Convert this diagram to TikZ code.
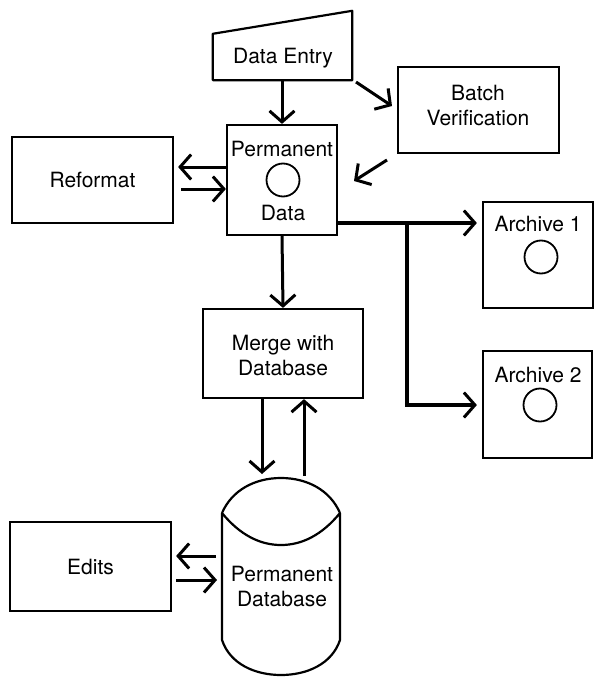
\documentclass[tikz,border=0pt]{standalone}
\usepackage{fontspec}
\setmainfont{TeX Gyre Heros}
\usetikzlibrary{arrows.meta}
\tikzset{
  box/.style={draw, line width=2.2pt, rectangle, inner sep=0pt},
  lbl/.style={font=\fontsize{21}{25}\selectfont, inner sep=0pt, align=center},
  disk/.style={draw, circle, line width=1.8pt, minimum size=33pt, inner sep=0pt},
  arr/.style={line width=3pt, -{Straight Barb[length=11pt,width=25pt]}},
  thick arr/.style={line width=4.5pt, -{Straight Barb[length=11pt,width=25pt,line width=3pt]}},
  thickline/.style={line width=4.5pt}
}
\begin{document}
\begin{tikzpicture}[x=1pt,y=-1pt]
\useasboundingbox (0,0) rectangle (595,677);
% Data Entry (manual input shape)
\node[inner sep=0pt, minimum width=139pt, minimum height=46pt] (de) at (282.5,57) {};
\draw[line width=2.2pt, line join=round] (de.south west) -- (de.north west) -- ([yshift=23pt]de.north east) -- (de.south east) -- cycle;
\node[lbl] (detext) at (283,58) {Data Entry};
% Permanent Data
\node[box, minimum width=110pt, minimum height=110pt] (pd) at (282,180) {};
\node[lbl] (pdtop) at (282,149) {Permanent};
\node[disk] (pdc) at (283,180) {};
\node[lbl] (pdbot) at (283,213) {Data};
% Reformat
\node[box, minimum width=161pt, minimum height=86pt, lbl] (rf) at (92.5,180) {Reformat};
% Batch Verification
\node[box, minimum width=161pt, minimum height=86pt] (bv) at (478.5,110) {};
\node[lbl] (bvt) at (478,106) {Batch\\Verification};
% Archives
\node[box, minimum width=110pt, minimum height=106pt] (a1) at (538,255) {};
\node[lbl] (a1t) at (538,224) {Archive 1};
\node[disk] (a1c) at (541,257) {};
\node[box, minimum width=109pt, minimum height=107pt] (a2) at (537.5,404.5) {};
\node[lbl] (a2t) at (538,375) {Archive 2};
\node[disk] (a2c) at (540,405) {};
% Merge
\node[box, minimum width=160pt, minimum height=89pt] (mg) at (283,353.5) {};
\node[lbl] (mgt) at (283,355) {Merge with\\Database};
% Edits
\node[box, minimum width=161pt, minimum height=89pt, lbl] (ed) at (90.5,566.5) {Edits};
% Permanent Database (cylinder)
\node[inner sep=0pt, minimum width=118pt, minimum height=197pt] (db) at (281,576.5) {};
\draw[line width=2.2pt]
  (222,513) .. controls (232,490) and (255,478) .. (281,478) .. controls (307,478) and (330,490) .. (340,513)
  (222,513) .. controls (240,535) and (260,545) .. (281,545) .. controls (302,545) and (322,535) .. (340,513)
  (222,513) -- (222,640) .. controls (230,664) and (255,675) .. (281,675) .. controls (307,675) and (332,664) .. (340,640) -- (340,513);
\node[lbl] (dbt) at (282,586) {Permanent\\Database};
% coordinates for free arrow ends
\coordinate (bvin) at (392,106);
\coordinate (deout) at (356,82);
\coordinate (bvout) at (387,160);
\coordinate (pdin) at (354,181);
\coordinate (branch) at (407,223);
\coordinate (dbin) at (262,474);
\coordinate (dbout) at (304,476);
\coordinate (edup) at (216,556);
\coordinate (edlo) at (217,580);
% connectors
\draw[arr] (de.south -| pd.north) -- (pd.north);
\draw[arr] (deout) -- (bvin);
\draw[arr] (bvout) -- (pdin);
\draw[arr] ([yshift=13pt]pd.west) -- ([yshift=13pt,xshift=4pt]rf.east);
\draw[arr] ([yshift=-9pt,xshift=7pt]rf.east) -- ([yshift=-9pt]pd.west);
\draw[arr] (pd.south) -- (mg.north);
\draw[thick arr] (pd.east |- branch) -- ([xshift=-5pt]a1.west |- branch);
\draw[thickline] (branch) -- (branch |- a2c);
\draw[thick arr] ([xshift=-2.25pt]branch |- a2c) -- ([xshift=-5pt]a2.west |- a2c);
\draw[arr] (mg.south -| dbin) -- (dbin);
\draw[arr] (dbout) -- (mg.south -| dbout);
\draw[arr] (edup) -- ([xshift=4pt]ed.east |- edup);
\draw[arr] ([xshift=4pt]ed.east |- edlo) -- (edlo);
\end{tikzpicture}
\end{document}
